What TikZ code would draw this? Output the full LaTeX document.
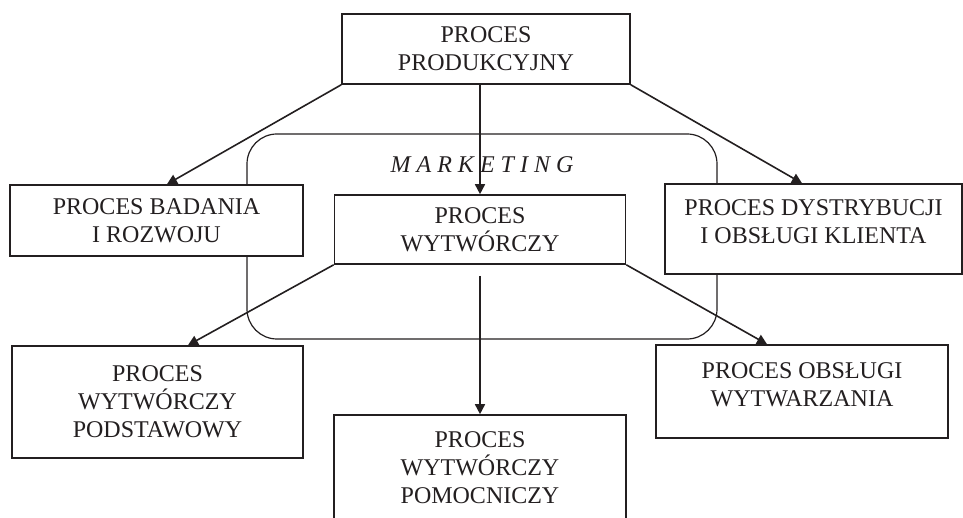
\documentclass[tikz,border=0pt]{standalone}
\usepackage{fontspec}
\setmainfont{Liberation Serif}
\usetikzlibrary{arrows.meta}
\definecolor{ink}{HTML}{231F20}
\tikzstyle{every picture}+=[remember picture]

\begin{document}
\begin{tikzpicture}[x=1pt,y=-1pt,
	proc/.style={draw=ink, line width=1.6pt, fill=white, inner sep=0pt, align=center,
		text=ink, font=\fontsize{24}{28}\selectfont},
	raised/.style={text depth=14pt},
	frame/.style={draw=ink, line width=1.2pt, rounded corners=30pt, inner sep=0pt},
	arr/.style={draw=ink, line width=1.6pt, -{Triangle[length=10pt,width=10pt]}}]
	\clip (0,0) rectangle (963,518);
	\node[frame, minimum width=470pt, minimum height=205pt] (mkt) at (482,236.5) {};
	\node[text=ink, font=\fontsize{24}{28}\selectfont\itshape] (mktlabel) at ([yshift=-31pt]mkt.north) {M A R K E T I N G};
	\node[proc, minimum width=288pt, minimum height=70pt] (prod) at (486,49) {PROCES\\PRODUKCYJNY};
	\node[proc, minimum width=293pt, minimum height=71pt] (badania) at (156.5,220.5) {PROCES BADANIA\\I ROZWOJU};
	\node[proc, minimum width=291pt, minimum height=69pt] (wytw) at (480,229.5) {PROCES\\WYTWÓRCZY};
	\node[proc, raised, minimum width=297pt, minimum height=90pt] (dystr) at (813.5,229) {PROCES DYSTRYBUCJI\\I OBSŁUGI KLIENTA};
	\node[proc, minimum width=291pt, minimum height=112pt] (podst) at (157.5,402) {PROCES\\WYTWÓRCZY\\PODSTAWOWY};
	\node[proc, minimum width=292pt, minimum height=106pt] (pomoc) at (480,468) {PROCES\\WYTWÓRCZY\\POMOCNICZY};
	\node[proc, raised, minimum width=292pt, minimum height=93pt] (obsl) at (802,391.5) {PROCES OBSŁUGI\\WYTWARZANIA};
	\draw[arr] (prod.south west) -- ([xshift=10.5pt]badania.north);
	\draw[arr] (wytw.north |- prod.south) -- (wytw.north);
	\draw[arr] (prod.south east) -- ([xshift=-11.5pt]dystr.north);
	\draw[arr] (wytw.south west) -- ([xshift=30.5pt]podst.north);
	\draw[arr] ([yshift=-11pt]wytw.south) -- (pomoc.north);
	\draw[arr] (wytw.south east) -- ([xshift=-35pt]obsl.north);
\end{tikzpicture}
\end{document}
